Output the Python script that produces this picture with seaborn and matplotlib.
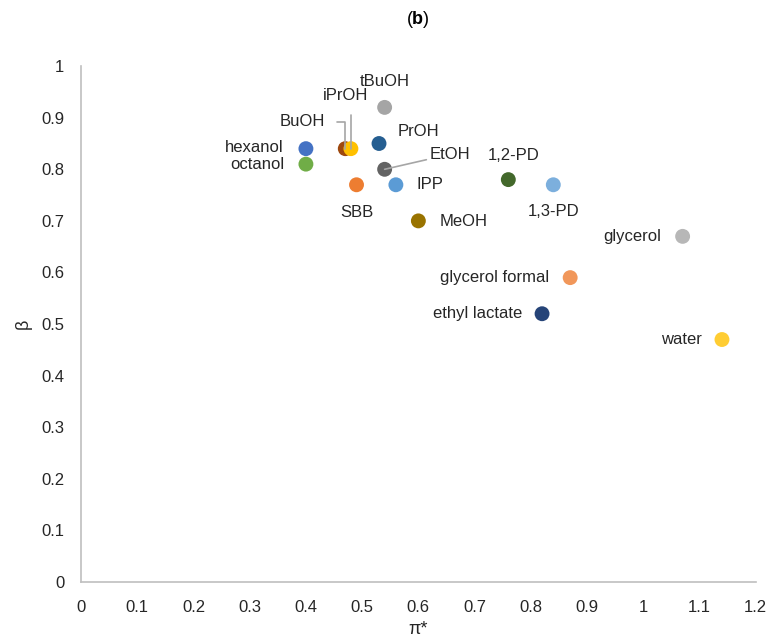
import numpy as np
import pandas as pd
import matplotlib
matplotlib.use("Agg")
import matplotlib.pyplot as plt
import seaborn as sns

# Kamlet-Taft parameters
solvents = ['hexanol', 'octanol', 'BuOH', 'iPrOH', 'tBuOH', 'PrOH', 'EtOH', 'SBB',
            'IPP', 'MeOH', '1,2-PD', '1,3-PD', 'glycerol', 'glycerol formal',
            'ethyl lactate', 'water']
pi_star = [0.40, 0.40, 0.47, 0.48, 0.54, 0.53, 0.54, 0.49,
           0.56, 0.60, 0.76, 0.84, 1.07, 0.87, 0.82, 1.14]
beta = [0.84, 0.81, 0.84, 0.84, 0.92, 0.85, 0.80, 0.77,
        0.77, 0.70, 0.78, 0.77, 0.67, 0.59, 0.52, 0.47]
colors = ['#4472C4', '#70AD47', '#9E480E', '#FFC000', '#A5A5A5', '#255E91', '#636363', '#ED7D31',
          '#5B9BD5', '#997300', '#43682B', '#7CAFDD', '#B7B7B7', '#F1975A', '#264478', '#FFCD33']

# label placement: offset in pixels, horizontal alignment, leader line?
label_pos = {
    'hexanol': (-22, 1, 'right', False),
    'octanol': (-22, 0, 'right', False),
    'BuOH': (-20, 27, 'right', True),
    'iPrOH': (-5, 53, 'center', True),
    'tBuOH': (0, 26, 'center', False),
    'PrOH': (19, 12, 'left', False),
    'EtOH': (45, 15, 'left', True),
    'SBB': (0, -28, 'center', False),
    'IPP': (21, 0, 'left', False),
    'MeOH': (21, -1, 'left', False),
    '1,2-PD': (5, 24, 'center', False),
    '1,3-PD': (0, -27, 'center', False),
    'glycerol': (-21, 0, 'right', False),
    'glycerol formal': (-21, 0, 'right', False),
    'ethyl lactate': (-20, 0, 'right', False),
    'water': (-20, 0, 'right', False),
}

df = pd.DataFrame({'solvent': solvents, 'pi': pi_star, 'beta': beta})

sns.set_style('white')
plt.rcParams['font.family'] = ['Liberation Sans', 'DejaVu Sans']
plt.rcParams['mathtext.fontset'] = 'custom'
plt.rcParams['mathtext.bf'] = 'Liberation Sans:bold'
plt.rcParams['mathtext.rm'] = 'Liberation Sans'

fig = plt.figure(figsize=(7.68, 6.42), dpi=100)
ax = fig.add_axes([0.1055, 0.0935, 0.8785, 0.8035])

sns.scatterplot(data=df, x='pi', y='beta', hue='solvent', palette=colors,
                s=115, edgecolor='none', legend=False, ax=ax, zorder=3)

for name, x, y in zip(solvents, pi_star, beta):
    dx, dy, ha, leader = label_pos[name]
    kw = {}
    if leader:
        if name == 'EtOH':
            kw['arrowprops'] = dict(arrowstyle='-', color='#A6A6A6', lw=1.2,
                                    shrinkA=0, shrinkB=0)
        else:
            kw['arrowprops'] = dict(arrowstyle='-', color='#A6A6A6', lw=1.2,
                                    shrinkA=6, shrinkB=0,
                                    connectionstyle='angle,angleA=0,angleB=90,rad=0')
    ax.annotate(name, (x, y), xytext=(dx, dy), textcoords='offset pixels',
                ha=ha, va='center', fontsize=12, color='#262626', zorder=4, **kw)

ax.set_xlim(0, 1.2)
ax.set_ylim(0, 1)
xt = np.round(np.arange(0, 1.21, 0.1), 1)
yt = np.round(np.arange(0, 1.01, 0.1), 1)
ax.set_xticks(xt)
ax.set_xticklabels([f'{v:g}' for v in xt])
ax.set_yticks(yt)
ax.set_yticklabels([f'{v:g}' for v in yt])
ax.tick_params(axis='x', length=0, labelsize=12, labelcolor='#262626', pad=13)
ax.tick_params(axis='y', length=0, labelsize=12, labelcolor='#262626', pad=12)

for side in ['top', 'right']:
    ax.spines[side].set_visible(False)
for side in ['left', 'bottom']:
    ax.spines[side].set_color('#BFBFBF')
    ax.spines[side].set_linewidth(1.2)

ax.set_xlabel('π*', fontsize=13, color='#262626', labelpad=4)
ax.set_ylabel('β', fontsize=13, color='#262626', labelpad=7)
ax.set_title(r'($\mathbf{b}$)', fontsize=13, color='#000000', pad=30)

fig.savefig('out.png', dpi=100)
